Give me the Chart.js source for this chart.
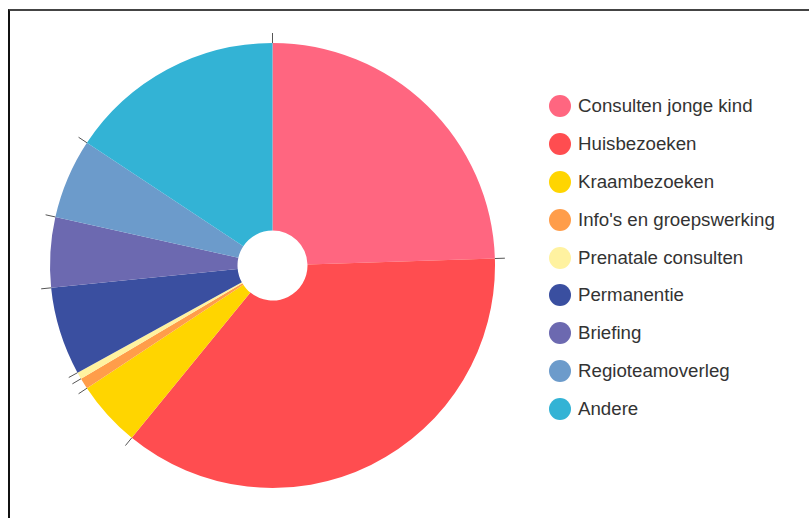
<!DOCTYPE html>
<html>
<head>
<meta charset="utf-8">
<script src="https://cdn.jsdelivr.net/npm/chart.js@4/dist/chart.umd.min.js"></script>
<style>
  html, body { margin: 0; padding: 0; background: #fff; }
  body { width: 809px; height: 518px; position: relative; overflow: hidden; }
  #frame { position: absolute; left: 8px; top: 9px; right: -10px; bottom: -10px;
           border-top: 2px solid #444; border-left: 2px solid #111; }
  #wrap { position: absolute; left: 40px; top: 33px; width: 465px; height: 465px; }
  #legend { position: absolute; left: 549px; top: 87px; list-style: none; margin: 0; padding: 0;
            font-family: "Liberation Sans", Arial, sans-serif;
            font-size: 18.7px; color: #333; }
  #legend li { height: 37.9px; display: flex; align-items: center; white-space: nowrap; }
  #legend span.dot { width: 22px; height: 22px; border-radius: 50%; display: inline-block; margin-right: 7px; }
</style>
</head>
<body>
<div id="frame"></div>
<div id="wrap"><canvas id="pieChart"></canvas></div>
<ul id="legend"></ul>
<script>
const categories = ['Consulten jonge kind', 'Huisbezoeken', 'Kraambezoeken', "Info's en groepswerking",
    'Prenatale consulten', 'Permanentie', 'Briefing', 'Regioteamoverleg', 'Andere'];
const shares = [24.5, 36.4, 4.8, 0.8, 0.5, 6.4, 5.1, 5.8, 15.7];
const colors = ['#ff6680', '#ff4d50', '#ffd500', '#ff9d4a', '#fff2a0', '#3a4fa0', '#6c69b0', '#6c9bcb', '#33b3d5'];

// short radial tick at the start of every slice
const sliceTicks = {
    id: 'sliceTicks',
    afterDatasetsDraw(chart) {
        const ctx = chart.ctx;
        ctx.save();
        ctx.strokeStyle = '#555';
        ctx.lineWidth = 1;
        chart.getDatasetMeta(0).data.forEach(arc => {
            const a = arc.startAngle;
            const r = arc.outerRadius;
            ctx.beginPath();
            ctx.moveTo(arc.x + Math.cos(a) * r, arc.y + Math.sin(a) * r);
            ctx.lineTo(arc.x + Math.cos(a) * (r + 10), arc.y + Math.sin(a) * (r + 10));
            ctx.stroke();
        });
        ctx.restore();
    }
};

const ctx = document.getElementById('pieChart').getContext('2d');
new Chart(ctx, {
    type: 'doughnut',
    data: {
        labels: categories,
        datasets: [{
            data: shares,
            backgroundColor: colors,
            borderWidth: 0
        }]
    },
    options: {
        responsive: true,
        maintainAspectRatio: false,
        animation: false,
        cutout: 35,
        layout: { padding: 10 },
        plugins: {
            legend: { display: false },
            tooltip: { enabled: false }
        }
    },
    plugins: [sliceTicks]
});

const legend = document.getElementById('legend');
categories.forEach((name, i) => {
    const li = document.createElement('li');
    const dot = document.createElement('span');
    dot.className = 'dot';
    dot.style.background = colors[i];
    li.appendChild(dot);
    li.appendChild(document.createTextNode(name));
    legend.appendChild(li);
});
</script>
</body>
</html>
